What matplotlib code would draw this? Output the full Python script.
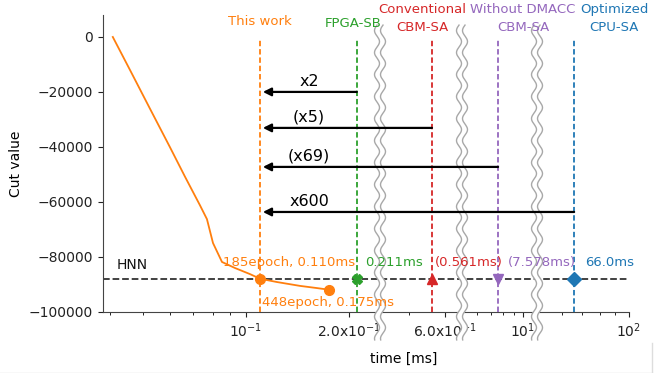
import numpy as np
import matplotlib
matplotlib.use("Agg")
import matplotlib.pyplot as plt
from matplotlib.patches import Polygon
from matplotlib.lines import Line2D
from matplotlib.transforms import IdentityTransform
from matplotlib.ticker import FixedLocator, FixedFormatter, NullFormatter

# ---------------- data ----------------
curve_time = [0.0408, 0.0458, 0.0524, 0.0600, 0.0663, 0.0734, 0.0769, 0.0801,
              0.0851, 0.0929, 0.1027, 0.110, 0.1232, 0.1438, 0.1613, 0.175]
curve_cut = [0, -12000, -26100, -40200, -50800, -61300, -66300, -75000,
             -81900, -84100, -86300, -88000, -89200, -90600, -91400, -92000]

hnn_cut = -88000
method_names = ["This work", "FPGA-SB", "Conventional\nCBM-SA",
                "Without DMACC\nCBM-SA", "Optimized\nCPU-SA"]
method_time = [0.110, 0.211, 0.561, 7.578, 66.0]
method_labels = ["185epoch, 0.110ms", "0.211ms", "(0.561ms)", "(7.578ms)", "66.0ms"]
method_colors = ["#ff7f0e", "#2ca02c", "#d62728", "#9467bd", "#1f77b4"]
method_markers = ["o", "X", "^", "v", "D"]

final_time = 0.175
final_cut = -92000
final_label = "448epoch, 0.175ms"

speedup_labels = ["x2", "(x5)", "(x69)", "x600"]
arrow_cut = [-20000, -33100, -47300, -63700]

xtick_vals = [0.1, 0.2, 0.6, 10, 100]
xtick_labels = ["10$^{-1}$", "2.0x10$^{-1}$", "6.0x10$^{-1}$", "10$^{1}$", "10$^{2}$"]
ytick_vals = [0, -20000, -40000, -60000, -80000, -100000]

# ---------------- broken log scale (layout) ----------------
seg_lt = np.array([-3.0, -0.608, -0.3666, -0.1843, 0.7053, 1.0676, 1.6974, 3.0])
seg_u = np.array([-438.0, 380.0, 380.0, 462.0, 462.0, 537.0, 537.0, 933.0])


def fwd(t):
    t = np.asarray(t, dtype=float)
    lt = np.log10(np.clip(t, 1e-9, None))
    return np.interp(lt, seg_lt, seg_u)


def inv(u):
    u = np.asarray(u, dtype=float)
    return 10 ** np.interp(u, seg_u, seg_lt)


def in_segment(t):
    lt = np.log10(t)
    for i in range(0, len(seg_lt), 2):
        if seg_lt[i] <= lt <= seg_lt[i + 1]:
            return True
    return False


plt.rcParams["font.family"] = ["DejaVu Sans"]
fig = plt.figure(figsize=(6.67, 3.73), dpi=100)
ax = fig.add_axes([103 / 667, 61.3 / 373, 526 / 667, 296.7 / 373])
ax.set_xscale("function", functions=(fwd, inv))
ax.set_xlim(inv(103), 100)
ax.set_ylim(-100000, 8000)

for s in ["top", "right"]:
    ax.spines[s].set_visible(False)
for s in ["left", "bottom"]:
    ax.spines[s].set_color("#444444")

ax.set_yticks(ytick_vals)
ax.xaxis.set_major_locator(FixedLocator(xtick_vals))
ax.xaxis.set_major_formatter(FixedFormatter(xtick_labels))
minor = [k * 10.0 ** e for e in range(-2, 2) for k in range(1, 10)]
minor = [m for m in minor if in_segment(m) and m not in xtick_vals
         and inv(103) <= m <= 100]
ax.xaxis.set_minor_locator(FixedLocator(minor))
ax.xaxis.set_minor_formatter(NullFormatter())
ax.tick_params(axis="both", colors="#222222", labelsize=10)
ax.tick_params(axis="x", which="major", length=3.5)
ax.tick_params(axis="x", which="minor", length=2)

ax.set_ylabel("Cut value", fontsize=10)
ax.set_xlabel("time [ms]", fontsize=10)
ax.xaxis.set_label_coords(0.572, -0.135)

# HNN line
ax.axhline(hnn_cut, color="#333333", lw=1.3, ls="--", zorder=2)
ax.annotate("HNN", xy=(0, hnn_cut), xycoords=("axes fraction", "data"),
            xytext=(10, 10), textcoords="offset points", fontsize=10,
            ha="left", va="center", color="#111111")

# vertical dashed method lines + markers
for t, c, m in zip(method_time, method_colors, method_markers):
    ax.axvline(t, ymin=0, ymax=0.916, color=c, lw=1.3, ls=(0, (3, 1.6)), zorder=3)
    ax.plot([t], [hnn_cut], marker=m, color=c, ms=7, zorder=13, clip_on=False)

top_dx = [0, -2.9, -7.2, 18, 28.8]
top_dy = [-5, -5.8, -2.5, -2.5, -2.5]
for name, t, c, dx, dy in zip(method_names, method_time, method_colors, top_dx, top_dy):
    ax.annotate(name, xy=(t, 1), xycoords=("data", "axes fraction"),
                xytext=(dx, dy), textcoords="offset points", color=c,
                fontsize=9.5, ha="center", va="center", linespacing=1.45,
                annotation_clip=False, zorder=12)

lab_dx = [-26.6, 5.8, 2.2, 7.2, 7.9]
for t, lab, c, dx in zip(method_time, method_labels, method_colors, lab_dx):
    ax.annotate(lab, xy=(t, hnn_cut), xytext=(dx, 11.9), textcoords="offset points",
                color=c, fontsize=9.5, ha="left", va="center", zorder=12)

# orange curve
ax.plot(curve_time, curve_cut, color="#ff7f0e", lw=1.3, zorder=4)
ax.plot([final_time], [final_cut], "o", color="#ff7f0e", ms=7, zorder=5)
ax.annotate(final_label, xy=(final_time, final_cut), xytext=(-1, -9.4),
            textcoords="offset points", color="#ff7f0e", fontsize=9.5,
            ha="center", va="center", zorder=12)

# speed-up arrows
for lab, t, y in zip(speedup_labels, method_time[1:], arrow_cut):
    ax.annotate("", xy=(method_time[0], y), xytext=(t, y),
                arrowprops=dict(arrowstyle="-|>", color="black", lw=1.6,
                                mutation_scale=12, shrinkA=0, shrinkB=2),
                zorder=12)
    ax.annotate(lab, xy=(method_time[0], y), xytext=(35.3, 4.5),
                textcoords="offset points", fontsize=11.5, ha="center",
                va="baseline", color="black", zorder=12)

# axis-break symbols
y_top = ax.transAxes.transform((0, 0.966))[1]
y_bot = ax.transAxes.transform((0, -0.095))[1]
yy = np.linspace(y_bot, y_top, 300)
for i in range(1, len(seg_lt) - 1, 2):
    xb = ax.transData.transform((10 ** seg_lt[i], 0))[0]
    wave = 2.5 * np.sin(2 * np.pi * (yy - y_top) / 22.0)
    xl = xb - 3 + wave
    xr = xb + 3 + wave
    poly = np.vstack([np.column_stack([xl, yy]), np.column_stack([xr[::-1], yy[::-1]])])
    ax.add_patch(Polygon(poly, closed=True, facecolor="white", edgecolor="none",
                         transform=IdentityTransform(), clip_on=False, zorder=10))
    for xx in (xl, xr):
        ax.add_line(Line2D(xx, yy, color="#a8a8a8", lw=1.0,
                           transform=IdentityTransform(), clip_on=False, zorder=11))

# light frame remnants at the bottom / right edge
fig.add_artist(Line2D([0, 652 / 667], [0.5 / 373, 0.5 / 373], color="#dddddd", lw=1.0))
fig.add_artist(Line2D([652 / 667, 652 / 667], [0, 30 / 373], color="#dddddd", lw=1.0))

fig.savefig("out.png", dpi=100)
